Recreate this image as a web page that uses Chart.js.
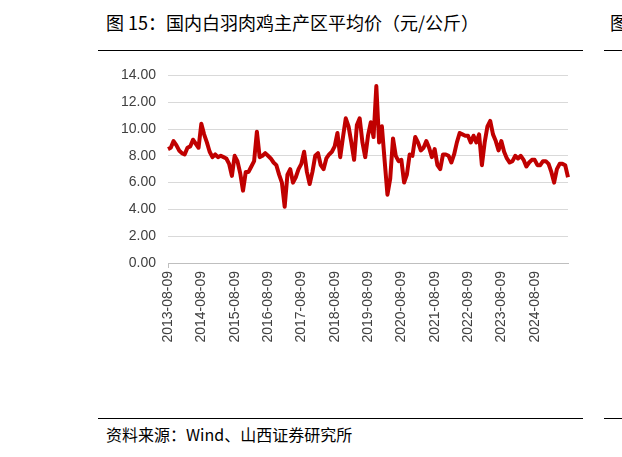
<!DOCTYPE html>
<html>
<head>
<meta charset="utf-8">
<script src="https://cdn.jsdelivr.net/npm/chart.js@4/dist/chart.umd.min.js"></script>
<style>
    body { margin: 0; width: 622px; height: 457px; background: #fff; position: relative; overflow: hidden;
           font-family: "Noto Sans CJK SC", sans-serif; }
    .title { position: absolute; left: 106px; top: 9px; font-size: 18px; color: #000; }
    .title2 { position: absolute; left: 610px; top: 9px; font-size: 18px; color: #000; }
    .hline { position: absolute; height: 1px; background: #000; }
    .source { position: absolute; left: 106px; top: 422px; font-size: 16px; color: #000; }
    #wrap { position: absolute; left: 100px; top: 55px; width: 480px; height: 306px; }
</style>
</head>
<body>
<div class="title">图 15：国内白羽肉鸡主产区平均价（元/公斤）</div>
<div class="title2">图</div>
<div class="hline" style="left:98px;top:50px;width:485px"></div>
<div class="hline" style="left:604px;top:50px;width:18px"></div>
<div class="hline" style="left:98px;top:418px;width:485px"></div>
<div class="hline" style="left:604px;top:418px;width:18px"></div>
<div class="source">资料来源：Wind、山西证券研究所</div>
<div id="wrap"><canvas id="chart"></canvas></div>
<script>
// monthly average price, 2013-08-09 .. 2025-08-09
const startYear = 2013;
const prices = [
    8.5, 8.6, 9.1, 8.8, 8.4, 8.2, 8.1, 8.6, 8.7, 9.2, 8.9, 8.6,
    10.4, 9.6, 9.0, 8.3, 7.9, 8.1, 7.9, 8.0, 7.9, 7.8, 7.4, 6.5,
    8.0, 7.6, 6.7, 5.4, 6.8, 6.8, 7.2, 7.6, 9.8, 7.9, 8.0, 8.2,
    8.0, 7.8, 7.5, 7.3, 6.6, 6.0, 4.2, 6.6, 7.0, 6.0, 6.4, 7.0,
    7.4, 8.3, 6.8, 5.9, 6.8, 8.0, 8.2, 7.3, 7.0, 7.8, 8.1, 8.3,
    8.7, 9.7, 7.9, 9.4, 10.8, 10.2, 9.0, 7.7, 10.3, 10.8, 9.0, 7.9,
    9.5, 10.5, 9.4, 13.2, 9.0, 10.2, 7.6, 5.1, 6.3, 9.3, 8.0, 7.6,
    7.7, 6.0, 6.6, 8.1, 8.0, 9.4, 9.0, 8.4, 8.6, 9.1, 8.6, 7.9,
    8.5, 7.3, 7.0, 8.1, 8.1, 8.0, 7.5, 8.1, 9.0, 9.7, 9.6, 9.5,
    9.5, 9.0, 9.5, 9.0, 9.6, 7.3, 9.0, 10.2, 10.6, 9.6, 9.1, 8.4,
    9.1, 8.3, 7.8, 7.5, 7.6, 8.0, 7.8, 8.0, 7.7, 7.2, 7.5, 7.7,
    7.7, 7.3, 7.3, 7.6, 7.6, 7.4, 6.8, 6.0, 7.0, 7.4, 7.4, 7.3,
    6.4
];
const labels = prices.map((v, i) => {
    const m = 8 + i;
    const y = startYear + Math.floor((m - 1) / 12);
    const mm = ((m - 1) % 12) + 1;
    return y + "-" + String(mm).padStart(2, "0") + "-09";
});
const yTicks = [0, 2, 4, 6, 8, 10, 12, 14];

new Chart(document.getElementById("chart"), {
    type: "line",
    data: {
        labels: labels,
        datasets: [{
            data: prices,
            borderColor: "#C00000",
            borderWidth: 4,
            pointRadius: 0,
            tension: 0,
            borderJoinStyle: "round"
        }]
    },
    options: {
        responsive: true,
        maintainAspectRatio: false,
        animation: false,
        layout: { padding: { top: 14, right: 12 } },
        plugins: { legend: { display: false }, tooltip: { enabled: false } },
        scales: {
            x: {
                offset: false,
                grid: {
                    drawOnChartArea: false,
                    tickLength: 5,
                    color: ctx => (ctx.index % 12 === 0 ? "#bfbfbf" : "rgba(0,0,0,0)")
                },
                border: { color: "#bfbfbf" },
                ticks: {
                    autoSkip: false,
                    minRotation: 90,
                    maxRotation: 90,
                    color: "#404040",
                    font: { size: 14, family: "Liberation Sans" },
                    callback: (v, i) => (i % 12 === 0 && i < prices.length - 1 ? labels[i] : null)
                },
                afterFit: s => { s.height = 98; }
            },
            y: {
                min: 0,
                max: 14,
                afterBuildTicks: s => { s.ticks = yTicks.map(v => ({ value: v })); },
                grid: { color: "#d9d9d9", drawTicks: false },
                border: { display: false },
                ticks: {
                    padding: 12,
                    color: "#404040",
                    font: { size: 14, family: "Liberation Sans" },
                    callback: v => v.toFixed(2)
                },
                afterFit: s => { s.width = 68; }
            }
        }
    }
});
</script>
</body>
</html>
